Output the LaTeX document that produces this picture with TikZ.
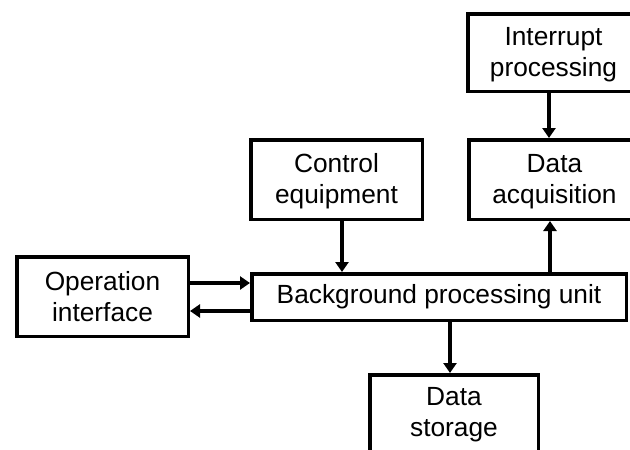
\documentclass[tikz,border=0pt]{standalone}
\usepackage{fontspec}
\setmainfont{Liberation Sans}
\usetikzlibrary{arrows.meta}
\begin{document}
\begin{tikzpicture}[x=1pt,y=-1pt,
  blk/.style={draw=black,line width=3.5pt,fill=white,inner sep=0pt,align=center,
    font=\fontsize{26.3}{31}\selectfont},
  arr/.style={line width=3.5pt,-{Triangle[length=10pt,width=13pt]}}]
\useasboundingbox[fill=white] (0,0) rectangle (630,450);
\clip (0,0) rectangle (630,450);
\node[blk,minimum width=171.5pt,minimum height=79.5pt] (op) at (102.5,296.5) {Operation\\interface};
\node[blk,minimum width=374.5pt,minimum height=46.5pt] (bg) at (439,297) {Background processing unit};
\node[blk,minimum width=171.5pt,minimum height=79.5pt] (ctrl) at (336.5,179.5) {\rule{0pt}{22pt}Control\\equipment};
\node[blk,minimum width=171.5pt,minimum height=79.5pt] (acq) at (554.5,179.5) {\rule{0pt}{22pt}Data\\acquisition};
\node[blk,minimum width=171.5pt,minimum height=77.5pt] (intr) at (553.5,52.5) {\rule{0pt}{22pt}Interrupt\\processing};
\node[blk,minimum width=168.5pt,minimum height=79.5pt] (stor) at (454,414.5) {Data\\storage};
\draw[arr] ([xshift=5.5pt]ctrl.south) -- ([xshift=5.5pt]ctrl.south |- bg.north);
\draw[arr] ([xshift=-4.5pt]acq.south |- bg.north) -- ([xshift=-4.5pt]acq.south);
\draw[arr] ([xshift=-4.5pt]intr.south) -- ([xshift=-4.5pt]intr.south |- acq.north);
\draw[arr] ([xshift=-4pt]stor.north |- bg.south) -- ([xshift=-4pt]stor.north);
\draw[arr] ([yshift=13.5pt]op.east) -- ([yshift=13.5pt]op.east -| bg.west);
\draw[arr] ([yshift=-14.5pt]op.east -| bg.west) -- ([yshift=-14.5pt]op.east);
\end{tikzpicture}
\end{document}
